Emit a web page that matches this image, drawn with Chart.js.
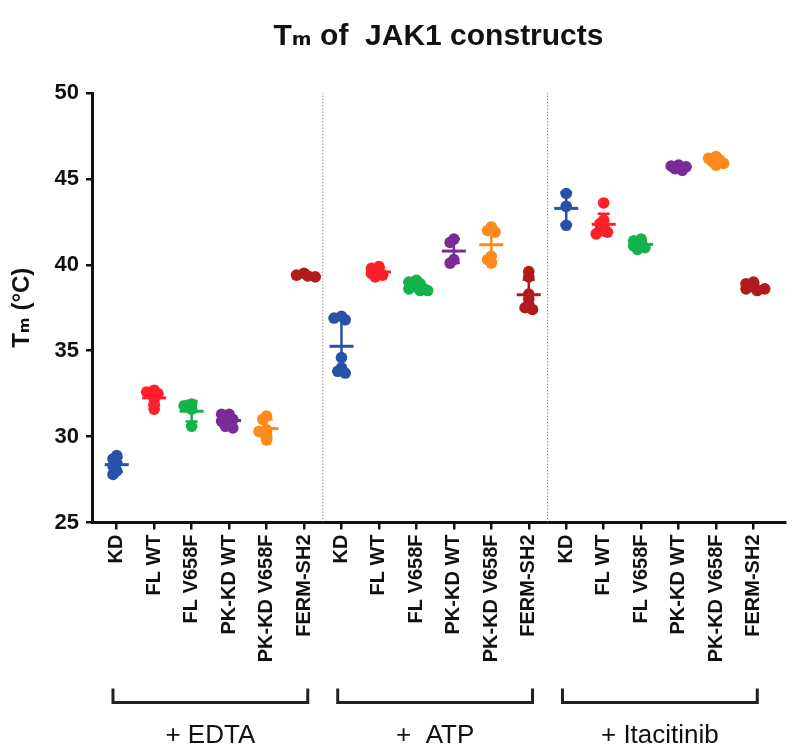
<!DOCTYPE html>
<html>
<head>
<meta charset="utf-8">
<script src="https://cdn.jsdelivr.net/npm/chart.js@4/dist/chart.umd.min.js"></script>
<style>
  html, body { margin: 0; padding: 0; background: #fff; }
  #wrap { width: 799px; height: 756px; position: relative; }
</style>
</head>
<body>
<div id="wrap"><canvas id="c" width="799" height="756"></canvas></div>
<script>
// ---------------- data ----------------
const constructs = ["KD", "FL WT", "FL V658F", "PK-KD WT", "PK-KD V658F", "FERM-SH2"];
const conditions = ["+ EDTA", "+  ATP", "+ Itacitinib"];
const yTicks = [25, 30, 35, 40, 45, 50];

// Tm (°C) replicate values, one list per construct, for each condition
const edtaTm = [
  [28.9, 28.7, 28.5, 28.3, 28.0, 27.8],
  [32.7, 32.6, 32.5, 32.2, 31.9, 31.6],
  [31.9, 31.8, 31.6, 30.6],
  [31.3, 31.3, 31.1, 31.0, 30.8, 30.6, 30.5, 30.9],
  [31.2, 31.0, 30.4, 30.3, 30.1, 29.8],
  [39.5, 39.4, 39.35, 39.3]
];
const atpTm = [
  [37.0, 36.9, 36.8, 34.6, 34.0, 33.8, 33.7],
  [39.9, 39.8, 39.6, 39.5, 39.4, 39.3],
  [39.1, 39.0, 38.9, 38.7, 38.6, 38.5, 38.5, 38.6],
  [41.5, 41.3, 40.3, 40.1],
  [42.2, 42.0, 41.9, 40.5, 40.3, 40.1],
  [39.6, 39.3, 38.3, 38.0, 37.7, 37.5, 37.4]
];
const itaTm = [
  [44.15, 43.4, 42.3],
  [43.6, 42.6, 42.4, 42.2, 42.0, 41.9, 41.8],
  [41.5, 41.4, 41.2, 41.1, 41.0, 40.9],
  [45.8, 45.75, 45.7, 45.6, 45.5],
  [46.3, 46.2, 46.1, 46.0, 45.8, 45.9],
  [39.0, 38.9, 38.7, 38.6, 38.5, 38.6]
];
const colors = ["#2752a8", "#ff1f2a", "#14b24a", "#7a2b96", "#ff8a1c", "#b01c1c"];

// ---------------- helpers ----------------
const allGroups = [edtaTm, atpTm, itaTm];
const nC = constructs.length;
const xLabels = [];
allGroups.forEach(() => constructs.forEach(c => xLabels.push(c)));

// simple beeswarm spread (like a scatter dot plot) so overlapping dots sit side by side
function swarm(vals, center) {
  const rx = 0.15, ry = 0.33, step = 0.1;
  const tries = [0, -1, 1, -2, 2, -3, 3];
  const placed = [];
  vals.forEach(v => {
    let best = 0, bestD = -1;
    for (const s of tries) {
      const dx = s * step;
      let minD = Infinity;
      placed.forEach(p => { minD = Math.min(minD, Math.hypot((p.dx - dx) / rx, (p.y - v) / ry)); });
      if (minD >= 0.75) { best = dx; bestD = minD; break; }
      if (minD > bestD) { bestD = minD; best = dx; }
    }
    placed.push({ dx: best, y: v });
  });
  return placed.map(p => ({ x: center + p.dx, y: p.y }));
}

const datasets = [];
constructs.forEach((name, ci) => {
  let pts = [];
  allGroups.forEach((g, gi) => { pts = pts.concat(swarm(g[ci], gi * nC + ci)); });
  datasets.push({
    type: 'scatter', label: name, data: pts,
    pointRadius: 5.8, pointHoverRadius: 5.8, pointBorderWidth: 0,
    backgroundColor: colors[ci], borderColor: colors[ci], showLine: false
  });
});
// dotted separators between condition groups
[1, 2].forEach(k => {
  const xv = k * nC - 0.5;
  datasets.push({
    type: 'line', label: 'sep' + k,
    data: [{ x: xv, y: yTicks[0] }, { x: xv, y: yTicks[yTicks.length - 1] }],
    borderColor: '#777', borderWidth: 1, borderDash: [1.2, 2], pointRadius: 0, fill: false
  });
});

function stats(a) {
  const m = a.reduce((s, v) => s + v, 0) / a.length;
  const sd = a.length > 1 ? Math.sqrt(a.reduce((s, v) => s + (v - m) * (v - m), 0) / (a.length - 1)) : 0;
  return { m, sd };
}

const meanSdPlugin = {
  id: 'meanSd',
  afterDatasetsDraw(chart) {
    const { ctx, scales: { x, y } } = chart;
    ctx.save();
    allGroups.forEach((g, gi) => {
      g.forEach((vals, ci) => {
        const { m, sd } = stats(vals);
        const px = x.getPixelForValue(gi * nC + ci);
        const pm = y.getPixelForValue(m);
        const pt = y.getPixelForValue(m + sd);
        const pb = y.getPixelForValue(m - sd);
        ctx.strokeStyle = colors[ci];
        ctx.lineWidth = 2.5;
        ctx.beginPath();
        ctx.moveTo(px, pt); ctx.lineTo(px, pb);
        ctx.moveTo(px - 6, pt); ctx.lineTo(px + 6, pt);
        ctx.moveTo(px - 6, pb); ctx.lineTo(px + 6, pb);
        ctx.stroke();
        ctx.lineWidth = 3;
        ctx.beginPath();
        ctx.moveTo(px - 12, pm); ctx.lineTo(px + 12, pm);
        ctx.stroke();
      });
    });
    ctx.restore();
  }
};

const bracketPlugin = {
  id: 'brackets',
  afterDraw(chart) {
    const { ctx, scales: { x }, chartArea } = chart;
    const yTop = chartArea.bottom + 166, yBot = chartArea.bottom + 180;
    ctx.save();
    ctx.strokeStyle = '#222';
    ctx.lineWidth = 3;
    ctx.fillStyle = '#111';
    ctx.font = '26px "Liberation Sans", Arial, sans-serif';
    ctx.textAlign = 'center';
    ctx.textBaseline = 'middle';
    conditions.forEach((label, gi) => {
      const x0 = x.getPixelForValue(gi * nC - 0.1);
      const x1 = x.getPixelForValue(gi * nC + nC - 1 + 0.1);
      ctx.beginPath();
      ctx.moveTo(x0, yTop); ctx.lineTo(x0, yBot); ctx.lineTo(x1, yBot); ctx.lineTo(x1, yTop);
      ctx.stroke();
      ctx.fillText(label, (x0 + x1) / 2, chartArea.bottom + 213);
    });
    ctx.restore();
  }
};

const FONT = '"Liberation Sans", Arial, "DejaVu Sans", sans-serif';

new Chart(document.getElementById('c'), {
  type: 'scatter',
  data: { datasets },
  options: {
    responsive: false,
    animation: false,
    layout: { padding: { left: 0, right: 14, top: 0, bottom: 0 } },
    plugins: {
      legend: { display: false },
      tooltip: { enabled: false },
      title: {
        display: true, fullSize: false,
        text: 'Tₘ of  JAK1 constructs',
        color: '#111',
        font: { family: FONT, size: 30, weight: 'bold' },
        padding: { top: 19, bottom: 38 }
      }
    },
    scales: {
      x: {
        type: 'linear',
        min: -0.66, max: 17.84,
        afterFit(s) { s.height = 233.5; },
        afterBuildTicks(s) { s.ticks = xLabels.map((_, i) => ({ value: i })); },
        ticks: {
          autoSkip: false, minRotation: 90, maxRotation: 90, padding: 5,
          color: '#111',
          font: { family: FONT, size: 20, weight: 'bold' },
          callback: (v) => xLabels[v]
        },
        grid: { drawOnChartArea: false, drawTicks: true, tickLength: 7, color: '#111', lineWidth: 2.5 },
        border: { display: true, color: '#111', width: 3 }
      },
      y: {
        type: 'linear',
        min: yTicks[0], max: yTicks[yTicks.length - 1],
        afterFit(s) { s.width = 92; },
        afterBuildTicks(s) { s.ticks = yTicks.map(v => ({ value: v })); },
        ticks: {
          padding: 7, color: '#111',
          font: { family: FONT, size: 22, weight: 'bold' }
        },
        grid: { drawOnChartArea: false, drawTicks: true, tickLength: 6, color: '#111', lineWidth: 2.5 },
        border: { display: true, color: '#111', width: 3 },
        title: {
          display: true, text: 'Tₘ (°C)', color: '#111',
          font: { family: FONT, size: 24, weight: 'bold' },
          padding: { top: 8, bottom: 0 }
        }
      }
    }
  },
  plugins: [meanSdPlugin, bracketPlugin]
});
</script>
</body>
</html>
